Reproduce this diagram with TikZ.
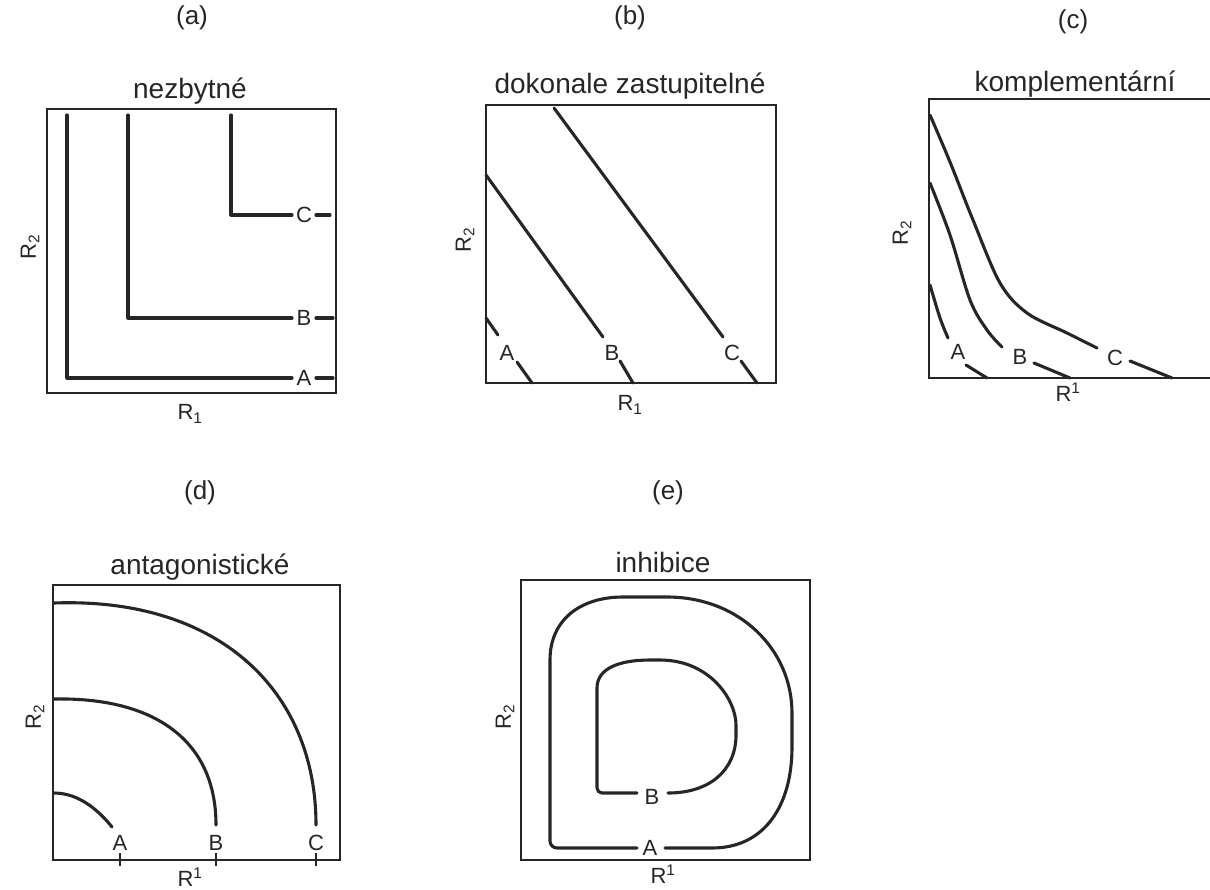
\documentclass[tikz,border=0pt]{standalone}
\usepackage{fontspec}
\setmainfont{Liberation Sans}
\begin{document}
\begin{tikzpicture}[x=1pt,y=-1pt,
  frame/.style={draw=black!85,line width=1.6pt},
  curve/.style={draw=black!85,line width=3.1pt,line cap=round,line join=round},
  tick/.style={draw=black!85,line width=2.8pt},
  lbl/.style={font=\fontsize{22}{22}\selectfont,inner sep=0pt,text=black!85},
  ttl/.style={font=\fontsize{28}{28}\selectfont,inner sep=0pt,text=black!85},
  par/.style={font=\fontsize{26}{26}\selectfont,inner sep=0pt,text=black!85}]
\useasboundingbox (0,0) rectangle (1210,889);
% ---------- (a)
\node[par] (pa) at (192,18) {(a)};
\node[ttl] (ta) at (190,91) {nezbytné};
\draw[frame] (47,109) rectangle (336,393);
\node[lbl,rotate=90] (ya) at (30,247) {R\textsubscript{2}};
\node[lbl] (xa) at (190,414) {R\textsubscript{1}};
\node[lbl] (aA) at (304,378) {A};
\node[lbl] (aB) at (304,318) {B};
\node[lbl] (aC) at (304,215) {C};
\draw[curve] (67,115) -- (67,378) -- (292,378);
\draw[curve] (316,378) -- (333,378);
\draw[curve] (128,115) -- (128,318) -- (292,318);
\draw[curve] (316,318) -- (333,318);
\draw[curve] (231,115) -- (231,215) -- (292,215);
\draw[curve] (316,215) -- (330,215);
% ---------- (b)
\node[par] (pb) at (630,18) {(b)};
\node[ttl] (tb) at (630,86) {dokonale zastupitelné};
\draw[frame] (486,105) rectangle (776,383);
\node[lbl,rotate=90] (yb) at (465,240) {R\textsubscript{2}};
\node[lbl] (xb) at (630,405) {R\textsubscript{1}};
\node[lbl] (bA) at (507,353) {A};
\node[lbl] (bB) at (612,353) {B};
\node[lbl] (bC) at (732,353) {C};
\draw[curve] (554,108) -- (723,337);
\draw[curve] (741,361) -- (757,383);
\draw[curve] (486,175) -- (603,337);
\draw[curve] (620,361) -- (633,383);
\draw[curve] (486,318) -- (498,335);
\draw[curve] (517,362) -- (532,383);
% ---------- (c)
\node[par] (pc) at (1073,22) {(c)};
\node[ttl] (tc) at (1075,84) {komplementární};
\draw[frame] (1212,99) -- (929,99) -- (929,378) -- (1212,378);
\node[lbl,rotate=90] (yc) at (902,233) {R\textsubscript{2}};
\node[lbl] (xc) at (1068,392) {R\textsuperscript{1}};
\node[lbl] (cA) at (958,352) {A};
\node[lbl] (cB) at (1020,357) {B};
\node[lbl] (cC) at (1115,358) {C};
\draw[curve] plot[smooth,tension=0.55] coordinates {(930,115) (950,162) (973,220) (1000,283) (1027,313) (1067,333) (1097,348)};
\draw[curve] (1130,361) -- (1172,378);
\draw[curve] plot[smooth,tension=0.55] coordinates {(930,183) (950,235) (970,300) (987,330) (1002,347)};
\draw[curve] (1034,363) -- (1070,378);
\draw[curve] plot[smooth,tension=0.55] coordinates {(930,285) (940,318) (948,338)};
\draw[curve] (966,365) -- (987,378);
% ---------- (d)
\node[par] (pd) at (200,493) {(d)};
\node[ttl] (td) at (200,567) {antagonistické};
\draw[frame] (53,585) rectangle (340,860);
\node[lbl,rotate=90] (yd) at (35,717) {R\textsubscript{2}};
\node[lbl] (xd) at (190,877) {R\textsuperscript{1}};
\node[lbl] (dA) at (120,843) {A};
\node[lbl] (dB) at (216,843) {B};
\node[lbl] (dC) at (316,843) {C};
\draw[tick] (120,853) -- (120,866);
\draw[tick] (216,853) -- (216,866);
\draw[tick] (316,853) -- (316,866);
\draw[curve] (54,603) .. controls (218,597) and (316,690) .. (316,825);
\draw[curve] (54,699) .. controls (154,697) and (216,740) .. (216,825);
\draw[curve] (54,793) .. controls (80,793) and (100,812) .. (112,827);
% ---------- (e)
\node[par] (pe) at (668,493) {(e)};
\node[ttl] (te) at (663,562) {inhibice};
\draw[frame] (521,580) rectangle (810,860);
\node[lbl,rotate=90] (ye) at (505,717) {R\textsubscript{2}};
\node[lbl] (xe) at (663,874) {R\textsuperscript{1}};
\node[lbl] (eA) at (650,848) {A};
\node[lbl] (eB) at (652,797) {B};
\draw[curve,rounded corners=7] (637,848) -- (550,848) -- (550,667) .. controls (550,620) and (580,597) .. (630,597) -- (660,597) .. controls (740,597) and (792,650) .. (792,720) -- (792,740) .. controls (792,805) and (765,848) .. (705,848) -- (665,848);
\draw[curve,rounded corners=5] (637,793) -- (597,793) -- (597,693) .. controls (597,668) and (620,660) .. (655,660) .. controls (710,660) and (736,700) .. (736,730) .. controls (736,770) and (710,793) .. (668,793);
\end{tikzpicture}
\end{document}
